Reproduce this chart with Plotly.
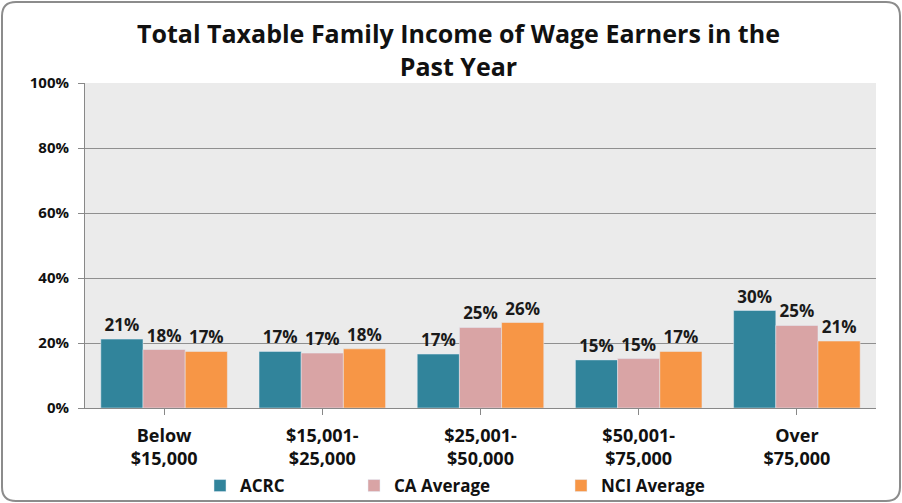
import plotly.graph_objects as go

categories = ["Below<br>$15,000", "$15,001-<br>$25,000", "$25,001-<br>$50,000",
              "$50,001-<br>$75,000", "Over<br>$75,000"]
acrc = [21.2, 17.4, 16.6, 14.8, 30.0]
ca_avg = [18.0, 16.9, 24.8, 15.2, 25.4]
nci_avg = [17.4, 18.2, 26.3, 17.4, 20.6]
y_ticks = [0, 20, 40, 60, 80, 100]
title = "Total Taxable Family Income of Wage Earners in the<br>Past Year"

font = "'Open Sans', sans-serif"
series = [("ACRC", acrc, "#31849b", "legend"),
          ("CA Average", ca_avg, "#d9a4a5", "legend2"),
          ("NCI Average", nci_avg, "#f79646", "legend3")]

fig = go.Figure()
for name, vals, col, leg in series:
    fig.add_trace(go.Bar(
        x=categories, y=vals, name=name, marker_color=col, legend=leg,
        texttemplate="%{y:.0f}%", textposition="outside",
        textfont=dict(family=font, size=17, color="#1a1a1a", weight="bold"),
        cliponaxis=False,
    ))

# plot area in pixels: x 85..876, y 83..408
pw, ph = 791, 325
def px(x):
    return (x - 85) / pw
def py(y):
    return (408 - y) / ph

# rounded outer frame, in paper units
L, R, T, B = px(2), px(900), py(2), py(501)
rx, ry = 14 / pw, 14 / ph
frame = (f"M {L+rx},{T} L {R-rx},{T} Q {R},{T} {R},{T-ry} "
         f"L {R},{B+ry} Q {R},{B} {R-rx},{B} "
         f"L {L+rx},{B} Q {L},{B} {L},{B+ry} "
         f"L {L},{T-ry} Q {L},{T} {L+rx},{T} Z")

legend_font = dict(family=font, size=17, color="#111111", weight="bold")
def leg(xpix):
    return dict(orientation="h", x=px(xpix), xanchor="left", y=py(486), yanchor="middle",
                font=legend_font, bgcolor="rgba(0,0,0,0)", itemwidth=30)

fig.update_layout(
    width=902, height=503,
    margin=dict(l=85, r=26, t=83, b=95, autoexpand=False),
    paper_bgcolor="white", plot_bgcolor="#ebebeb",
    barmode="group", bargap=0.2, bargroupgap=0,
    legend=leg(200), legend2=leg(354), legend3=leg(561),
    showlegend=True,
    shapes=[dict(type="path", xref="paper", yref="paper", layer="below",
                 path=frame, line=dict(color="#8c8c8c", width=2))],
    annotations=[dict(text=title, xref="paper", yref="paper", x=px(458), y=py(49),
                      xanchor="center", yanchor="middle", showarrow=False,
                      font=dict(family=font, size=25, color="#111111", weight="bold"))],
)

fig.update_xaxes(showline=True, linecolor="#888888", ticks="outside", tickcolor="#888888",
                 ticklen=6, showgrid=False, ticklabelstandoff=5,
                 tickfont=dict(family=font, size=18, color="#111111", weight="bold"))
fig.update_yaxes(range=[0, 100], tickvals=y_ticks, ticktext=[f"{v}%" for v in y_ticks],
                 showgrid=True, gridcolor="#8f8f8f", gridwidth=1,
                 showline=True, linecolor="#888888", ticks="outside", tickcolor="#888888",
                 ticklen=6, zeroline=False, ticklabelstandoff=6,
                 tickfont=dict(family=font, size=15, color="#111111", weight="bold"))

fig.write_html("out.html", config={"displayModeBar": False},
               post_script="document.body.style.margin='0px';")
